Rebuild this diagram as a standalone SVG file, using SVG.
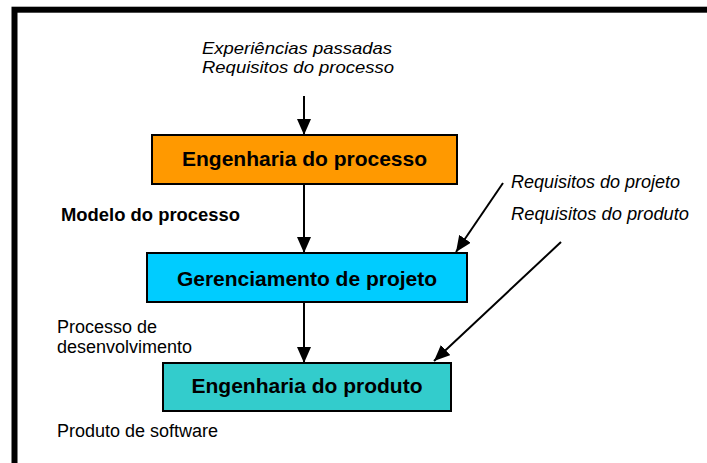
<svg xmlns="http://www.w3.org/2000/svg" width="707" height="463" viewBox="0 0 707 463">
  <style>
    .frame { fill: none; stroke: #000; stroke-width: 6; }
    .box { stroke: #000; stroke-width: 2; }
    .title { font-family: "Liberation Sans", Arial, sans-serif; font-weight: bold; font-size: 21px; text-anchor: middle; fill: #000; }
    .note { font-family: "Liberation Sans", Arial, sans-serif; font-size: 18px; fill: #000; }
    .small { font-size: 17px; }
    .it { font-style: italic; }
    .bold { font-weight: bold; }
    .conn { stroke: #000; stroke-width: 2; fill: none; marker-end: url(#head); }
  </style>
  <defs>
    <marker id="head" markerUnits="userSpaceOnUse" markerWidth="16" markerHeight="14" refX="16" refY="7" orient="auto">
      <path d="M0,0 L16,7 L0,14 Z" fill="#000"/>
    </marker>
  </defs>

  <rect width="707" height="463" fill="#fff"/>
  <!-- outer frame: only the top and left edges are visible -->
  <rect class="frame" x="14.5" y="9.7" width="800" height="800"/>

  <g id="connectors">
    <line class="conn" x1="304" y1="96" x2="304" y2="135"/>
    <line class="conn" x1="304" y1="184" x2="304" y2="253"/>
    <line class="conn" x1="304" y1="302" x2="304" y2="363"/>
    <line class="conn" x1="503" y1="183" x2="456" y2="252"/>
    <line class="conn" x1="561" y1="242" x2="434" y2="361"/>
  </g>

  <g id="inputs">
    <text class="note small it" x="202" y="54" textLength="190" lengthAdjust="spacingAndGlyphs">Experiências passadas</text>
    <text class="note small it" x="202" y="73" textLength="192" lengthAdjust="spacingAndGlyphs">Requisitos do processo</text>
  </g>

  <g id="eng-processo">
    <rect class="box" x="152" y="135" width="305" height="49" fill="#FF9900"/>
    <text class="title" x="304.5" y="166">Engenharia do processo</text>
  </g>

  <g id="modelo-label">
    <text class="note bold" x="61" y="221" textLength="179" lengthAdjust="spacingAndGlyphs">Modelo do processo</text>
  </g>

  <g id="req-projeto">
    <text class="note it" x="511" y="188">Requisitos do projeto</text>
  </g>

  <g id="req-produto">
    <text class="note it" x="511" y="220" textLength="178" lengthAdjust="spacingAndGlyphs">Requisitos do produto</text>
  </g>

  <g id="gerenciamento">
    <rect class="box" x="147" y="253" width="320" height="49" fill="#00CCFF"/>
    <text class="title" x="307" y="286">Gerenciamento de projeto</text>
  </g>

  <g id="processo-label">
    <text class="note" x="57" y="333">Processo de</text>
    <text class="note" x="57" y="353">desenvolvimento</text>
  </g>

  <g id="eng-produto">
    <rect class="box" x="163" y="363" width="288" height="48" fill="#33CCCC"/>
    <text class="title" x="307" y="393">Engenharia do produto</text>
  </g>

  <g id="produto-label">
    <text class="note" x="57" y="437">Produto de software</text>
  </g>
</svg>
